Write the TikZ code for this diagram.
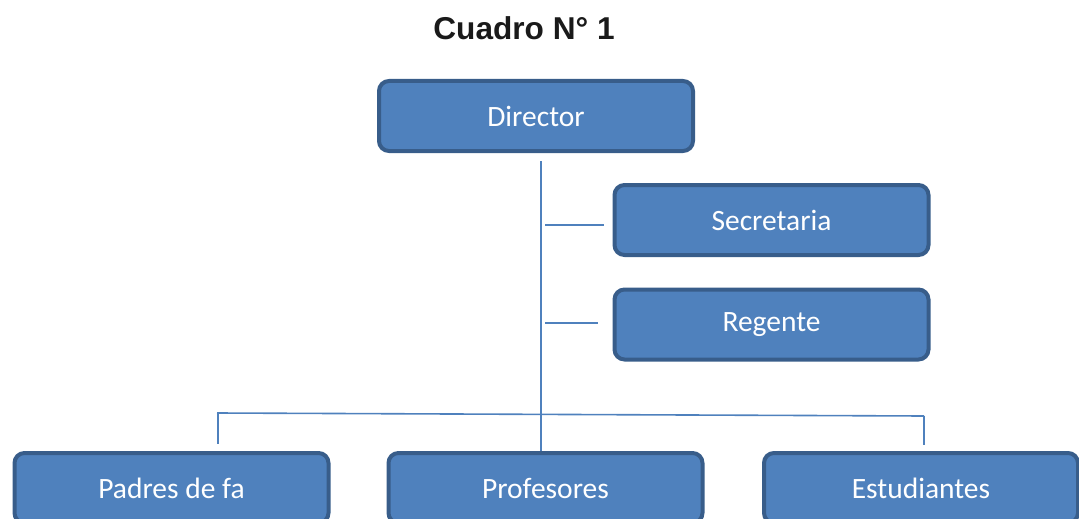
\documentclass[tikz,border=0pt]{standalone}
\usepackage{fontspec}
\setmainfont{Carlito}
\newfontfamily\titlefont{Liberation Sans}
\usetikzlibrary{calc}
\definecolor{boxfill}{HTML}{4F81BD}
\definecolor{boxline}{HTML}{385D8A}
\definecolor{conn}{HTML}{4F81BD}
\definecolor{titlecol}{HTML}{1A1A1A}
\begin{document}
\begin{tikzpicture}[x=1pt,y=-1pt,
  orgbox/.style={draw=boxline, fill=boxfill, line width=4pt, rounded corners=10pt,
    minimum width=314pt, minimum height=70pt, inner sep=0pt,
    text=white, font=\fontsize{29.5}{33}\selectfont},
  link/.style={draw=conn, line width=1.6pt}]
\useasboundingbox (0,0) rectangle (1079,519);
\clip (0,0) rectangle (1079,519);
\node[text=titlecol] (title) at (524,28) {\titlefont\bfseries\fontsize{31.6}{36}\selectfont Cuadro N° 1};
\node[orgbox] (dir) at (536,116) {Director};
\node[orgbox] (sec) at (771.5,220) {Secretaria};
\node[orgbox] (reg) at (771.5,324.5) {Regente};
\node[orgbox] (pad) at (171.5,488) {Padres de fa};
\node[orgbox] (pro) at (545.5,488) {Profesores};
\node[orgbox] (est) at (921,488) {Estudiantes};
\coordinate (vtop) at (541,161);
\coordinate (s1) at (545,225);
\coordinate (s2) at (604,225);
\coordinate (r1) at (545,323);
\coordinate (r2) at (598,323);
\coordinate (hl) at (217,413);
\coordinate (hr) at (924,416);
\coordinate (dl) at (218,444);
\coordinate (dr) at (924,445);
\draw[link] (vtop) -- (vtop |- pro.north);
\draw[link] (s1) -- (s2);
\draw[link] (r1) -- (r2);
\draw[link] (hl) -- (hr);
\draw[link] ($(hl)+(1,0)$) -- (dl);
\draw[link] (hr) -- (dr);
\end{tikzpicture}
\end{document}
